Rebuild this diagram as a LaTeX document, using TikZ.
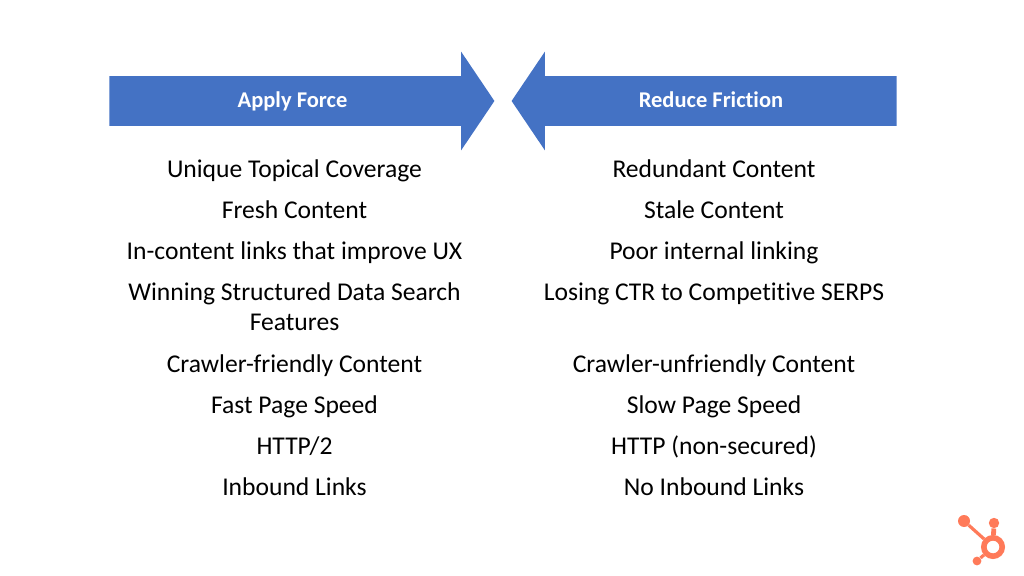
\documentclass[tikz,border=0pt]{standalone}
\usepackage{fontspec}
\setmainfont[Ligatures=NoCommon]{Carlito}
\usetikzlibrary{shapes,arrows}
\definecolor{barblue}{HTML}{4472C4}
\definecolor{spotorange}{HTML}{FF7A59}

\begin{document}
\begin{tikzpicture}[x=0.025cm,y=-0.025cm,
    every path/.style={>=latex},
    bar/.style={single arrow,fill=barblue,inner sep=0pt,text height=1.225cm,minimum height=9.625cm,
                single arrow head extend=0.6125cm,single arrow tip angle=112},
    title/.style={text=white,anchor=base,font=\fontsize{16}{20}\selectfont\bfseries},
    item/.style={text=black,align=center,anchor=base,font=\fontsize{18.2}{21.6}\selectfont},
    ball/.style={circle,fill=spotorange,inner sep=0pt},
    stem/.style={draw=spotorange,line width=1.2mm}]
  \useasboundingbox (0,0) rectangle (1024,576);

  \node[bar]                  (force)    at (293.5,101) {};
  \node[bar,shape border rotate=180] (friction) at (712.5,101) {};
  \node[title] (forcetitle)    at (292.5,108) {Apply Force};
  \node[title] (frictiontitle) at (711,108) {Reduce Friction};

  % left column
  \node[item] (f1) at (294.5,177.5) {Unique Topical Coverage};
  \node[item] (f2) at (294.5,218.5) {Fresh Content};
  \node[item] (f3) at (294.5,259.5) {In-content links that improve UX};
  \node[item] (f4) at (294.5,330.5) {Winning Structured Data Search\\Features};
  \node[item] (f5) at (294.5,372) {Crawler-friendly Content};
  \node[item] (f6) at (294.5,413) {Fast Page Speed};
  \node[item] (f7) at (294.5,454) {HTTP/2};
  \node[item] (f8) at (294.5,495) {Inbound Links};

  % right column
  \node[item] (r1) at (714,177.5) {Redundant Content};
  \node[item] (r2) at (714,218.5) {Stale Content};
  \node[item] (r3) at (714,259.5) {Poor internal linking};
  \node[item] (r4) at (714,300.5) {Losing CTR to Competitive SERPS};
  \node[item] (r5) at (714,372) {Crawler-unfriendly Content};
  \node[item] (r6) at (714,413) {Slow Page Speed};
  \node[item] (r7) at (714,454) {HTTP (non-secured)};
  \node[item] (r8) at (714,495) {No Inbound Links};

  % logo
  \node[ball,minimum size=0.3cm]   (balla) at (964,521) {};
  \node[ball,minimum size=0.26cm]  (ballb) at (994,523) {};
  \node[ball,minimum size=0.22cm]  (ballc) at (977,561) {};
  \node[circle,draw=spotorange,line width=1.4mm,minimum size=0.46cm,inner sep=0pt] (ring) at (993,547) {};
  \draw[stem,line width=0.8mm] (balla) -- (ring);
  \draw[stem] (ballb) -- (ring);
  \draw[stem,line width=0.8mm] (ballc) -- (ring);
\end{tikzpicture}
\end{document}
